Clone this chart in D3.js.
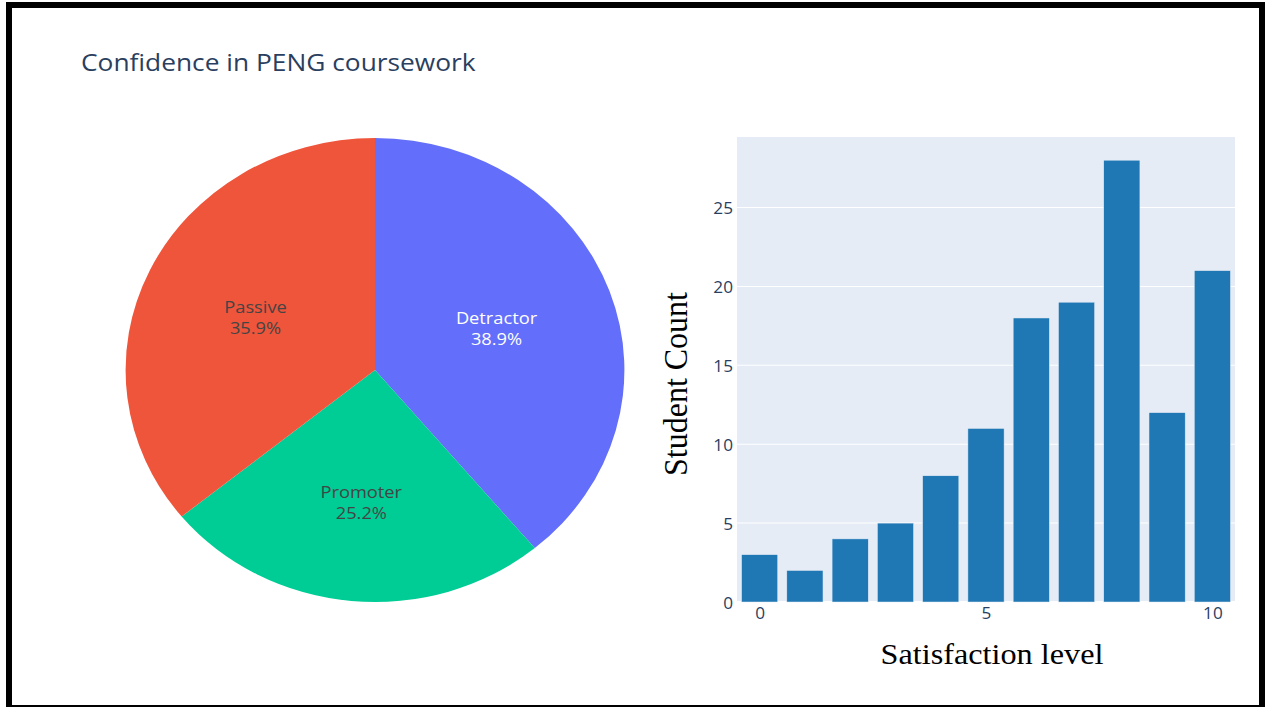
<!DOCTYPE html>
<html>
<head>
<meta charset="utf-8">
<script src="https://cdn.jsdelivr.net/npm/d3@7"></script>
<style>
    html, body { margin: 0; padding: 0; background: #ffffff; }
    svg { display: block; }
</style>
</head>
<body>
<svg id="chart"></svg>
<script>
// pie data (NPS groups)
const pieLabels = ['Detractor', 'Promoter', 'Passive'];
const pieValues = [51, 33, 47];
const pieColors = ['#636efa', '#00cc96', '#ef553b'];
const pieTextColors = ['#ffffff', '#444444', '#444444'];

// bar data
const levels = [0, 1, 2, 3, 4, 5, 6, 7, 8, 9, 10];
const counts = [3, 2, 4, 5, 8, 11, 18, 19, 28, 12, 21];
const yTicks = [0, 5, 10, 15, 20, 25];
const xTicks = [0, 5, 10];

const titleText = 'Confidence in PENG coursework';
const yTitle = 'Student Count';
const xTitle = 'Satisfaction level';

// the reference picture is stretched sideways a little, so draw in a narrower
// viewBox and let the svg stretch it back out
const width = 1265, height = 708;
const stretch = 1.075;
const vbWidth = width / stretch;
const px = x => x / stretch;   // screen x -> viewBox x

const svg = d3.select('#chart')
    .attr('width', width)
    .attr('height', height)
    .attr('viewBox', `0 0 ${vbWidth} ${height}`)
    .attr('preserveAspectRatio', 'none');

// black frame
svg.append('path')
    .attr('fill-rule', 'evenodd')
    .attr('fill', '#000000')
    .attr('d', `M${px(6)},2H${vbWidth}V707H${px(6)}Z M${px(12)},8H${px(1259)}V705H${px(12)}Z`);

// title
svg.append('text')
    .attr('x', px(81))
    .attr('y', 71)
    .attr('font-family', '"Open Sans", sans-serif')
    .attr('font-size', 24.5)
    .attr('fill', '#2a3f5f')
    .text(titleText);

// ---------- pie ----------
const pieCx = px(375), pieCy = 370, pieR = 232;
const total = d3.sum(pieValues);
const pieData = pieLabels.map((label, i) => ({ label, value: pieValues[i], color: pieColors[i], textColor: pieTextColors[i] }));

const arcs = d3.pie().sort(null).value(d => d.value)(pieData);
const arc = d3.arc().innerRadius(0).outerRadius(pieR);

const pieG = svg.append('g').attr('transform', `translate(${pieCx},${pieCy})`);

pieG.selectAll('path.slice')
    .data(arcs).enter()
    .append('path')
    .attr('class', 'slice')
    .attr('d', arc)
    .attr('fill', d => d.data.color);

const labels = pieG.selectAll('text.pieLabel')
    .data(arcs).enter()
    .append('text')
    .attr('class', 'pieLabel')
    .attr('text-anchor', 'middle')
    .attr('font-family', '"Open Sans", sans-serif')
    .attr('font-size', 17)
    .attr('fill', d => d.data.textColor)
    .attr('transform', function (d) {
        // narrower slices push the label further out, like plotly does
        var frac = d.data.value / total;
        var r = pieR * (0.53 + 0.4 * (0.36 - frac));
        var a = (d.startAngle + d.endAngle) / 2;
        return 'translate(' + (r * Math.sin(a)) + ',' + (-r * Math.cos(a)) + ')';
    });

labels.append('tspan')
    .attr('x', 0).attr('y', -10.5).attr('dy', '0.35em')
    .text(d => d.data.label);
labels.append('tspan')
    .attr('x', 0).attr('y', 10.5).attr('dy', '0.35em')
    .text(d => (d.data.value / total * 100).toFixed(1) + '%');

// ---------- bars ----------
const plot = { left: px(737), right: px(1235), top: 137, bottom: 602 };

const x = d3.scaleLinear()
    .domain([levels[0] - 0.5, levels[levels.length - 1] + 0.5])
    .range([plot.left, plot.right]);
const y = d3.scaleLinear()
    .domain([0, d3.max(counts) * 1.0525])
    .range([plot.bottom, plot.top]);

svg.append('rect')
    .attr('x', plot.left).attr('y', plot.top)
    .attr('width', plot.right - plot.left)
    .attr('height', plot.bottom - plot.top)
    .attr('fill', '#e5ecf6');

svg.append('g')
    .selectAll('line')
    .data(yTicks).enter()
    .append('line')
    .attr('x1', plot.left).attr('x2', plot.right)
    .attr('y1', d => y(d)).attr('y2', d => y(d))
    .attr('stroke', '#ffffff')
    .attr('stroke-width', d => d === 0 ? 2 : 1);

const barWidth = (x(1) - x(0)) * 0.8;
svg.append('g')
    .selectAll('rect')
    .data(levels).enter()
    .append('rect')
    .attr('x', d => x(d) - barWidth / 2)
    .attr('y', (d, i) => y(counts[i]))
    .attr('width', barWidth)
    .attr('height', (d, i) => y(0) - y(counts[i]))
    .attr('fill', '#1f77b4')
    .attr('stroke', '#e5ecf6')
    .attr('stroke-width', 0.5);

// y axis ticks
const yAxis = svg.append('g')
    .attr('transform', `translate(${px(733)},1)`)
    .call(d3.axisLeft(y).tickValues(yTicks).tickSize(0).tickPadding(0));
yAxis.select('.domain').remove();
yAxis.selectAll('text')
    .attr('font-family', '"Open Sans", sans-serif')
    .attr('font-size', 16)
    .attr('fill', '#2a3f5f');

// x axis ticks
const xAxis = svg.append('g')
    .attr('transform', `translate(0,${plot.bottom + 6})`)
    .call(d3.axisBottom(x).tickValues(xTicks).tickSize(0).tickPadding(0));
xAxis.select('.domain').remove();
xAxis.selectAll('text')
    .attr('font-family', '"Open Sans", sans-serif')
    .attr('font-size', 16)
    .attr('fill', '#2a3f5f');

// axis titles
svg.append('text')
    .attr('transform', `translate(${px(687)},384) rotate(-90)`)
    .attr('text-anchor', 'middle')
    .attr('font-family', '"Liberation Serif", "Times New Roman", serif')
    .attr('font-size', 32)
    .attr('fill', '#000000')
    .text(yTitle);

svg.append('text')
    .attr('x', px(992))
    .attr('y', 664)
    .attr('text-anchor', 'middle')
    .attr('font-family', '"Liberation Serif", "Times New Roman", serif')
    .attr('font-size', 30)
    .attr('fill', '#000000')
    .text(xTitle);
</script>
</body>
</html>
